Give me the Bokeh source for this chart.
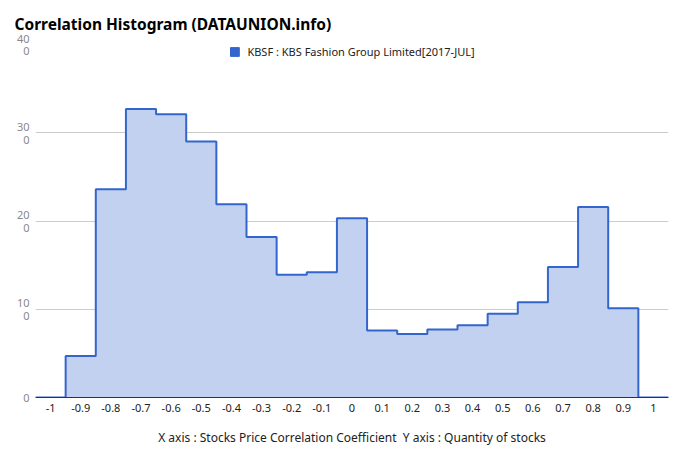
import numpy as np
from bokeh.plotting import figure
from bokeh.models import FixedTicker, Legend, LegendItem, ColumnDataSource
from bokeh.embed import file_html
from bokeh.resources import INLINE

# ---- data ----
categories = ["-1", "-0.9", "-0.8", "-0.7", "-0.6", "-0.5", "-0.4", "-0.3", "-0.2", "-0.1",
              "0", "0.1", "0.2", "0.3", "0.4", "0.5", "0.6", "0.7", "0.8", "0.9", "1"]
counts = [0, 47, 236, 327, 321, 290, 219, 182, 139, 142,
          203, 76, 72, 77, 82, 95, 108, 148, 216, 101, 0]
y_ticks = [0, 100, 200, 300, 400]
y_tick_labels = ["0", "10\n0", "20\n0", "30\n0", "40\n0"]
series_name = "KBSF : KBS Fashion Group Limited[2017-JUL]"
title_text = "Correlation Histogram (DATAUNION.info)"
x_title = "X axis : Stocks Price Correlation Coefficient \u00a0Y axis : Quantity of stocks"

LINE = "#3366cc"
FILL = "#c2d1f0"

idx = np.arange(len(categories))
left = idx - 0.5
right = idx + 0.5
xs = np.column_stack([left, right]).ravel()
ys = np.repeat(np.array(counts, dtype=float), 2)
src = ColumnDataSource(dict(x=xs, y=ys, y0=np.zeros_like(ys)))
bins = ColumnDataSource(dict(left=left, right=right, top=counts, bottom=np.zeros(len(counts))))

p = figure(width=680, height=462, output_backend="svg", toolbar_location=None,
           x_range=(-0.5, len(categories) - 0.5), y_range=(0, 400),
           min_border_left=35, min_border_right=12, min_border_bottom=65, min_border_top=44)

p.title.text = title_text
p.title.text_font = "Noto Sans"
p.title.text_font_size = "15.5px"
p.title.text_font_style = "bold"
p.title.text_color = "#000000"
p.title.offset = -21
p.title.standoff = 20

p.outline_line_color = None
p.background_fill_color = "white"
p.border_fill_color = "white"

p.varea(x="x", y1="y0", y2="y", source=src, fill_color=FILL, fill_alpha=1.0)
p.line(x="x", y="y", source=src, line_color=LINE, line_width=2)

# baseline
p.xaxis.axis_line_color = "#333333"
p.xaxis.axis_line_width = 1
p.xaxis.major_tick_line_color = None
p.xaxis.minor_tick_line_color = None
p.xaxis.ticker = FixedTicker(ticks=list(idx))
p.xaxis.major_label_overrides = {int(i): c for i, c in zip(idx, categories)}
p.xaxis.major_label_text_font = "Noto Sans"
p.xaxis.major_label_text_font_size = "11px"
p.xaxis.major_label_text_color = "#222222"
p.xaxis.major_label_standoff = 0
p.xaxis.axis_label = x_title
p.xaxis.axis_label_text_font = "Noto Sans"
p.xaxis.axis_label_text_font_size = "12px"
p.xaxis.axis_label_text_font_style = "normal"
p.xaxis.axis_label_text_color = "#222222"
p.xaxis.axis_label_standoff = 14

p.yaxis.axis_line_color = None
p.yaxis.major_tick_line_color = None
p.yaxis.minor_tick_line_color = None
p.yaxis.ticker = FixedTicker(ticks=y_ticks)
p.yaxis.major_label_overrides = {t: l for t, l in zip(y_ticks, y_tick_labels)}
p.yaxis.major_label_text_font = "Noto Sans"
p.yaxis.major_label_text_font_size = "11px"
p.yaxis.major_label_text_line_height = 0.85
p.yaxis.major_label_text_color = "#888888"
p.yaxis.major_label_standoff = 0

p.xgrid.grid_line_color = None
p.ygrid.grid_line_color = "#cccccc"
p.ygrid.ticker = FixedTicker(ticks=y_ticks[1:])

# legend swatch (hidden renderer; only its legend glyph is shown)
sw = p.quad(left="left", right="right", top="top", bottom="bottom", source=bins,
            fill_color=LINE, line_color=LINE, visible=False)
legend = Legend(items=[LegendItem(label=series_name, renderers=[sw])],
                location="top_center", orientation="horizontal",
                glyph_width=11, glyph_height=11, label_height=11,
                label_standoff=8, padding=0, margin=0, spacing=0,
                border_line_color=None, background_fill_alpha=0,
                inactive_fill_alpha=0,
                label_text_font="Noto Sans", label_text_font_size="11px",
                label_text_color="#222222")
p.add_layout(legend, "center")

open("out.html", "w").write(file_html(p, INLINE))
